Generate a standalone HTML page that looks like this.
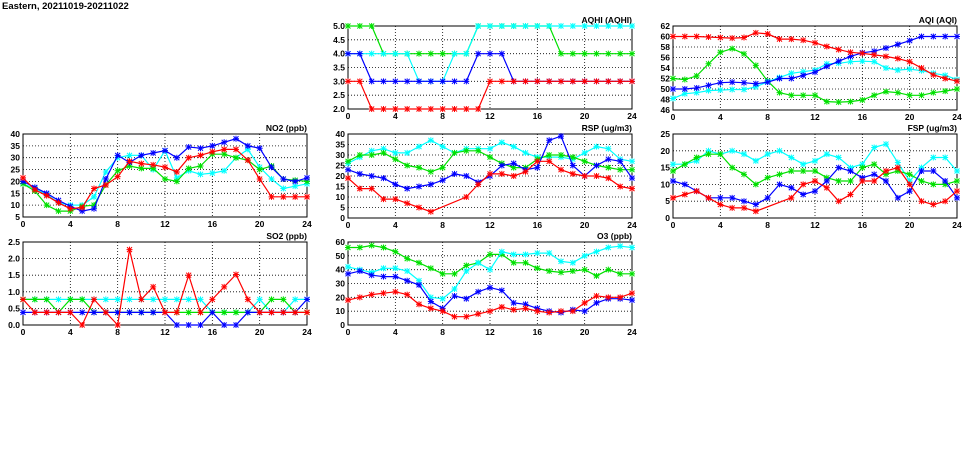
<!DOCTYPE html>
<html><head><meta charset="utf-8"><style>
body{margin:0;background:#fff;width:975px;height:447px;overflow:hidden}
svg text{font-family:"Liberation Sans",sans-serif;font-weight:bold;font-size:8.5px;fill:#000}
</style></head><body>
<svg id="s" width="975" height="447" xmlns="http://www.w3.org/2000/svg">
<text x="2" y="9" style="font-size:9.5px">Eastern, 20211019-20211022</text>
</svg>
<script>
const C={r:"#ff0000",g:"#00e000",b:"#0000ff",c:"#00ffff"};
const N=null;
const P=[
{t:"AQHI (AQHI)",x:348,y:26,h:83,min:2,max:5,st:0.5,fx:1,s:[
["g",[5,5,5,4,4,4,4,4,4,4,4,5,5,5,5,5,5,5,4,4,4,4,4,4,4]],
["c",[4,4,4,4,4,4,3,3,3,4,4,5,5,5,5,5,5,5,5,5,5,5,5,5,5]],
["b",[4,4,3,3,3,3,3,3,3,3,3,4,4,4,3,3,3,3,3,3,3,3,3,3,3]],
["r",[3,3,2,2,2,2,2,2,2,2,2,2,3,3,3,3,3,3,3,3,3,3,3,3,3]]]},
{t:"AQI (AQI)",x:673,y:26,h:84,min:46,max:62,st:2,fx:0,s:[
["g",[52,51.8,52.5,54.8,57,57.7,56.7,54.5,51.5,49.3,48.8,48.8,48.8,47.6,47.5,47.6,47.9,48.8,49.5,49.3,48.8,48.8,49.3,49.6,50]],
["c",[48.2,49.1,49.3,49.7,49.8,49.9,49.9,50.4,51.4,52.2,53,53.3,53.6,54.8,54.9,55.2,55.3,55.2,54,53.6,53.8,53.5,53,52.6,51.8]],
["b",[50,50,50.2,50.7,51.2,51.3,51.2,51,51.3,52,52,52.6,53.2,54.3,55.3,56.2,56.9,57.2,57.8,58.5,59.2,60,60,60,60]],
["r",[60,60,60,59.9,59.8,59.7,59.8,60.7,60.5,59.5,59.5,59.3,58.8,58.1,57.5,57,56.8,56.5,56.2,55.8,55.2,54,52.7,52,51.5]]]},
{t:"NO2 (ppb)",x:23,y:134,h:83,min:5,max:40,st:5,fx:0,s:[
["c",[19,17,14.5,11,10,10,13.5,24,30,31,31,25,33,21.5,24.5,23,23.5,24.5,30,33.5,26,21,17,18,19]],
["g",[19,16,10,7.5,7.5,9.5,10,18.5,24.5,26.5,25.5,25.5,21,20,25.5,26.5,31.5,31.5,30,29,25,26.5,21,20.5,20]],
["b",[20,17.5,15,12,9.5,7.5,8.5,21,31,28,31,32,33,30,34.5,34,35,36.5,38,35,34,26,21,20,21.5]],
["r",[21.5,16.5,14,11,8.5,9,17,18.5,22,28.5,27.5,27,26,24,30,31,32.5,33.5,33.5,29,21,13.5,13.5,13.5,13.5]]]},
{t:"RSP (ug/m3)",x:348,y:134,h:84,min:0,max:40,st:5,fx:0,s:[
["c",[26,29,32,33,31,31,34,37,34,31,33,33,33,36,34,31,29,29,29,28,31,34,33,28,27]],
["g",[27,30,30,31,28,25,24,22,24,31,32,32,29,26,24,24,28,30,30,29,27,25,24,23,23]],
["b",[23,21,20,19,16,14,15,16,18,21,20,17,20,25,26,23,24,37,39,25,20,25,28,27,19]],
["r",[19,14,14,9,9,7,5,3,N,N,10,16,21,21,20,22,27,27,23,21,20,20,19,15,14]]]},
{t:"FSP (ug/m3)",x:673,y:134,h:84,min:0,max:25,st:5,fx:0,s:[
["c",[16,16,17,20,19,20,19,17,19,20,18,16,17,19,18,15,16,21,22,16.5,11,15,18,18,14]],
["g",[14,16,18,19,19,15,13,10,12,13,14,14,14,12,11,11,15,16,13,14,13,11,10,10,11]],
["b",[11,10,8,6,6,6,5,4,6,10,9,7,8,11,15,14,12,13,11,6,8,14,14,11,6]],
["r",[6,7,8,6,4,3,3,2,N,N,6,10,11,9,5,7,11,11,14,15,10,5,4,5,8]]]},
{t:"SO2 (ppb)",x:23,y:242,h:83,min:0,max:2.5,st:0.5,fx:1,s:[
["c",[0.77,0.77,0.77,0.77,0.77,0.77,0.77,0.77,0.77,0.77,0.77,0.77,0.77,0.77,0.77,0.77,0.38,0.38,0.38,0.38,0.77,0.38,0.38,0.77,0.77]],
["g",[0.77,0.77,0.77,0.38,0.77,0.77,0.38,0.38,0.38,0.38,0.38,0.38,0.38,0.38,0.38,0.38,0.38,0.38,0.38,0.38,0.38,0.77,0.77,0.38,0.38]],
["b",[0.38,0.38,0.38,0.38,0.38,0.38,0.38,0.38,0.38,0.38,0.38,0.38,0.38,0,0,0,0.38,0,0,0.38,0.38,0.38,0.38,0.38,0.77]],
["r",[0.77,0.38,0.38,0.38,0.38,0,0.77,0.38,0,2.27,0.77,1.15,0.38,0.38,1.5,0.38,0.77,1.15,1.52,0.77,0.38,0.38,0.38,0.38,0.38]]]},
{t:"O3 (ppb)",x:348,y:242,h:83,min:0,max:60,st:10,fx:0,s:[
["g",[56,56,57.5,56,53,48,45,41,37,37,43,45,51,51,45,45,41,39,38,39,40,35.5,40,37,37]],
["c",[42,40,38,41,41,39,32,20,19,26,39,45,40,53,51,51,52,52,46,45,50,53,56,57,56]],
["b",[37,39,36,35,35,32,29,17,12,21,19,24,27,25,16,15,12,10,9,11,10,16,19,19,18]],
["r",[18,20,22,23,24,22,15,12,10,6,6,8,10,13,11,12,10,9,10,10,16,21,20,20,23]]]}
];
let o="";const W=284;
for(const p of P){
 const X=i=>p.x+i*W/24, Y=v=>p.y+p.h-(v-p.min)/(p.max-p.min)*p.h;
 for(let v=p.min;v<=p.max+1e-9;v+=p.st){const y=Y(v).toFixed(1);
  if(v>p.min+1e-9&&v<p.max-1e-9)o+=`<line x1="${p.x}" x2="${p.x+W}" y1="${y}" y2="${y}" stroke="#000" stroke-width="0.8" stroke-dasharray="1,2"/>`;
  o+=`<text x="${p.x-3}" y="${+y+3}" text-anchor="end">${p.fx?v.toFixed(1):Math.round(v)}</text>`;}
 for(let i=0;i<=24;i+=4){const x=X(i);
  if(i>0&&i<24)o+=`<line x1="${x}" x2="${x}" y1="${p.y}" y2="${p.y+p.h}" stroke="#000" stroke-width="0.8" stroke-dasharray="1,2"/>`;
  o+=`<text x="${x}" y="${p.y+p.h+10}" text-anchor="middle">${i}</text>`;}
 o+=`<rect x="${p.x}" y="${p.y}" width="${W}" height="${p.h}" fill="none" stroke="#000" stroke-width="1"/>`;
 o+=`<text x="${p.x+W}" y="${p.y-3}" text-anchor="end">${p.t}</text>`;
 for(const [c,d] of p.s){let pts=[];d.forEach((v,i)=>{if(v!==null)pts.push([X(i),Y(v)])});
  o+=`<polyline points="${pts.map(a=>a[0].toFixed(1)+","+a[1].toFixed(1)).join(" ")}" fill="none" stroke="${C[c]}" stroke-width="1.2"/>`;
  let m="";for(const [x,y] of pts)m+=`M${x-2.5},${y-2.5}l5,5M${x-2.5},${y+2.5}l5,-5M${x-3},${y}h6M${x},${y-3}v6`;
  o+=`<path d="${m}" stroke="${C[c]}" stroke-width="1"/>`;}
}
document.getElementById("s").insertAdjacentHTML("beforeend",o);
</script>
</body></html>
